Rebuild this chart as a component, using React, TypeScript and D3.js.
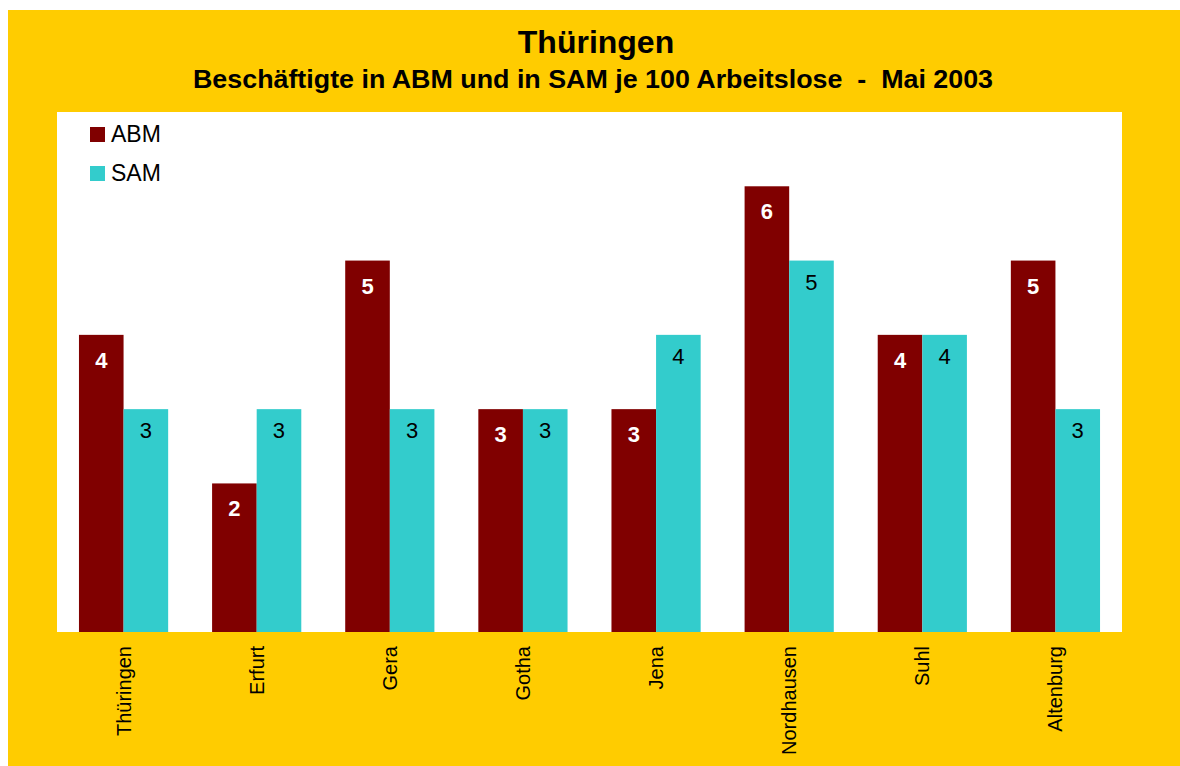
import React from 'react';
import * as d3 from 'd3';

// Kreise / Städte
const categories = ['Thüringen', 'Erfurt', 'Gera', 'Gotha', 'Jena', 'Nordhausen', 'Suhl', 'Altenburg'];
const abmValues = [4, 2, 5, 3, 3, 6, 4, 5];
const samValues = [3, 3, 3, 3, 4, 5, 4, 3];
const seriesNames = ['ABM', 'SAM'];

const title = 'Thüringen';
const subtitle = 'Beschäftigte in ABM und in SAM je 100 Arbeitslose  -  Mai 2003';

const W = 1180;
const H = 766;
const FONT = '"Liberation Sans", Arial, sans-serif';
const colors = ['#800000', '#33CCCC'];

const plot = { left: 57, top: 112, right: 1122, bottom: 632 };

export default function App() {
    const x = d3.scaleBand<string>()
        .domain(categories)
        .range([plot.left, plot.right])
        .paddingInner(0.33)
        .paddingOuter(0.165);
    const inner = d3.scaleBand<string>()
        .domain(seriesNames)
        .range([0, x.bandwidth()]);
    const y = d3.scaleLinear().domain([0, 7]).range([plot.bottom, plot.top]);

    const series = [abmValues, samValues];

    return (
        <svg width={W} height={H} style={{ position: 'absolute', left: 0, top: 0, fontFamily: FONT }}>
            <rect x={0} y={0} width={W} height={H} fill="#fff" />
            <rect x={8} y={10} width={W - 8} height={H - 10} fill="#FFCC00" />
            <rect x={plot.left} y={plot.top} width={plot.right - plot.left} height={plot.bottom - plot.top} fill="#fff" />

            <text x={596} y={53} textAnchor="middle" fontSize={32} fontWeight="bold">{title}</text>
            <text x={593} y={88} textAnchor="middle" fontSize={26} fontWeight="bold"
                  textLength={800} lengthAdjust="spacingAndGlyphs" style={{ whiteSpace: 'pre' }}>{subtitle}</text>

            {series.map((vals, si) => (
                <g key={seriesNames[si]}>
                    {vals.map((v, i) => {
                        const bx = (x(categories[i]) ?? 0) + (inner(seriesNames[si]) ?? 0);
                        const bw = inner.bandwidth();
                        return (
                            <g key={categories[i]}>
                                <rect x={bx} y={y(v)} width={bw} height={y(0) - y(v)} fill={colors[si]} />
                                <text
                                    x={bx + bw / 2}
                                    y={y(v) + (si === 0 ? 33 : 29)}
                                    textAnchor="middle"
                                    fontSize={22}
                                    fontWeight={si === 0 ? 'bold' : 'normal'}
                                    fill={si === 0 ? '#fff' : '#000'}
                                >{v}</text>
                            </g>
                        );
                    })}
                </g>
            ))}

            {categories.map(c => {
                const cx = (x(c) ?? 0) + x.bandwidth() / 2;
                return (
                    <text key={c} transform={`translate(${cx + 7},646) rotate(-90)`} textAnchor="end" fontSize={20}>{c}</text>
                );
            })}

            {seriesNames.map((s, i) => (
                <g key={s} transform={`translate(90,${127 + i * 39})`}>
                    <rect width={15} height={15} fill={colors[i]} />
                    <text x={21} y={15} fontSize={23}>{s}</text>
                </g>
            ))}
        </svg>
    );
}
